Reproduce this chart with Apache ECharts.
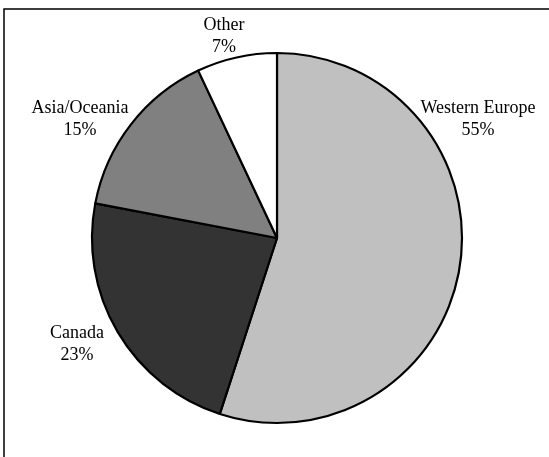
<!DOCTYPE html>
<html>
<head>
<meta charset="utf-8">
<script src="https://cdn.jsdelivr.net/npm/echarts@6/dist/echarts.min.js"></script>
<style>
html,body{margin:0;padding:0;background:#fff;}
#chart{width:549px;height:457px;}
</style>
</head>
<body>
<div id="chart"></div>
<script>
const categories = ["Western Europe", "Canada", "Asia/Oceania", "Other"];
const values = [55, 23, 15, 7];
const colors = ["#c0c0c0", "#333333", "#808080", "#ffffff"];
// label anchor points (layout only)
const labelPos = [[478, 119], [77, 344], [80, 119], [224, 36]];

const chart = echarts.init(document.getElementById('chart'), null, {renderer: 'canvas'});
chart.setOption({
  backgroundColor: '#ffffff',
  animation: false,
  graphic: [{
    type: 'rect',
    shape: {x: 4, y: 9, width: 700, height: 700},
    style: {fill: 'none', stroke: '#000', lineWidth: 1.5},
    silent: true
  }],
  series: [{
    type: 'pie',
    center: [277, 238],
    radius: 185,
    startAngle: 90,
    clockwise: true,
    data: categories.map((c, i) => ({name: c, value: values[i], itemStyle: {color: colors[i]}})),
    itemStyle: {borderColor: '#000', borderWidth: 2.2},
    label: {
      show: true,
      position: 'outside',
      formatter: '{b}\n{c}%',
      fontFamily: 'Liberation Serif',
      fontSize: 18,
      lineHeight: 22,
      color: '#000',
      align: 'center',
      overflow: 'none',
      width: 200
    },
    labelLine: {show: false},
    labelLayout: function (params) {
      const p = labelPos[params.dataIndex];
      return {x: p[0], y: p[1], align: 'center', verticalAlign: 'middle', hideOverlap: false, moveOverlap: null};
    },
    emphasis: {disabled: true}
  }]
});
</script>
</body>
</html>
